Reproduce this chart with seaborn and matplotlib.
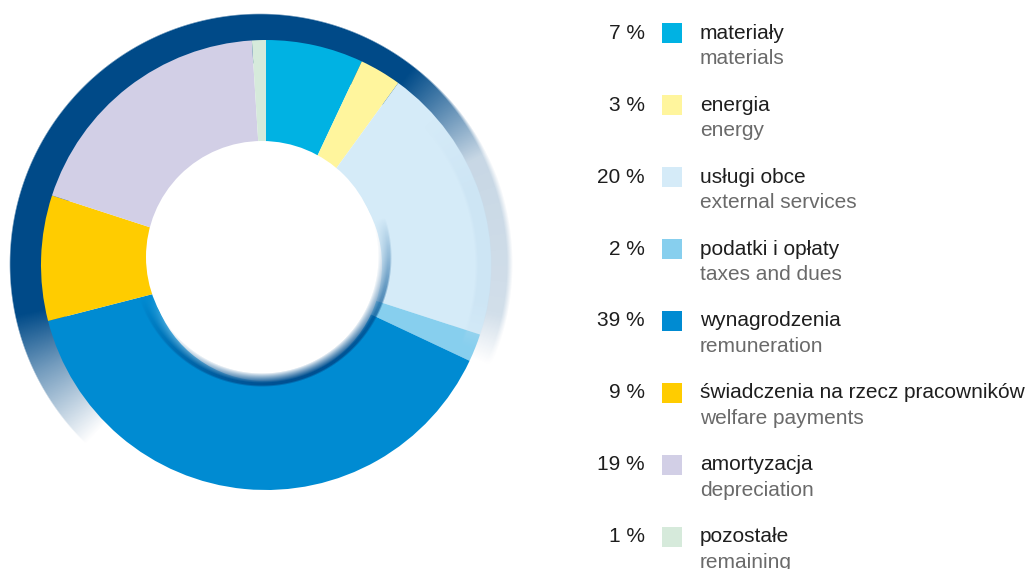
import numpy as np
import matplotlib
matplotlib.use("Agg")
import matplotlib.pyplot as plt
import seaborn as sns
from matplotlib.patches import Rectangle, Circle

# Cost structure
shares = [7, 3, 20, 2, 39, 9, 19, 1]
labels_pl = ["materiały", "energia", "usługi obce", "podatki i opłaty",
             "wynagrodzenia", "świadczenia na rzecz pracowników",
             "amortyzacja", "pozostałe"]
labels_en = ["materials", "energy", "external services", "taxes and dues",
             "remuneration", "welfare payments", "depreciation", "remaining"]
colors = ["#00b2e3", "#fff59d", "#d5ebf8", "#87cfee",
          "#008bd2", "#ffcc00", "#d2cfe6", "#d6eadb"]

sns.set_theme(style="white")
plt.rcParams["font.family"] = ["Liberation Sans", "DejaVu Sans"]

W, H = 1033, 569
fig = plt.figure(figsize=(W / 100, H / 100), dpi=100)
ax = fig.add_axes([0, 0, 1, 1])

cx, cy = 266, H - 265      # donut centre
r_out, r_in = 225, 116     # donut radii
navy = np.array([0, 74, 136]) / 255

# Dark rim behind the donut, fading out towards the right and bottom-left
ys, xs = np.mgrid[0:H, 0:560]
px = xs + 0.5
py = H - (ys + 0.5)
rx, ry = 260, H - 264
dist = np.hypot(px - rx, py - ry)
theta = np.degrees(np.arctan2(py - ry, px - rx))
theta = np.where(theta < -90, theta + 360, theta)
a_ang = np.interp(theta, [-90, -24, -12, 26, 52, 192, 206, 226, 270],
                  [0, 0, 0.18, 0.22, 1, 1, 0.55, 0, 0])
soft = np.interp(theta, [-90, 20, 50, 270], [6, 6, 1.5, 1.5])
a_rad = np.clip((250 - dist) / soft + 0.5, 0, 1) * np.clip((dist - 200) / 2.0, 0, 1)
rim = np.zeros((H, 560, 4))
rim[..., :3] = navy
rim[..., 3] = a_ang * a_rad
ax.imshow(rim, extent=(0, 560, 0, H), origin="upper", zorder=1,
          interpolation="bilinear")

# Donut segments
ax.pie(shares, colors=colors, startangle=90, counterclock=False,
       center=(cx, cy), radius=r_out,
       wedgeprops=dict(width=r_out - r_in, linewidth=0, antialiased=True),
       frame=True)

# Pale veil of the rim over the right-hand edge of the segments
veil = np.zeros((H, 560, 4))
veil[..., :3] = np.array([200, 225, 242]) / 255
dv = np.hypot(px - cx, py - cy)
v_ang = np.interp(theta, [-90, -22, -10, 20, 40, 270], [0, 0, 0.55, 0.55, 0, 0])
veil[..., 3] = v_ang * np.clip((dv - (r_out - 16)) / 3, 0, 1) * np.clip((r_out + 1 - dv), 0, 1)
ax.imshow(veil, extent=(0, 560, 0, H), origin="upper", zorder=2,
          interpolation="bilinear")

# Soft shaded rim around the hole, darkest at the bottom right
hx, hy = 262, H - 257
dh = np.hypot(px - hx, py - hy)
th = np.degrees(np.arctan2(py - hy, px - hx))
shade = np.clip(np.cos(np.radians(th + 72)), 0, 1) ** 1.0
band = np.clip((dh - r_in + 3) / 3, 0, 1) * np.clip((r_in + 14 - dh) / 2, 0, 1)
t = np.clip((dh - r_in) / 10, 0, 1) ** 0.8
hole_rgba = np.zeros((H, 560, 4))
dark = np.array([0, 80, 145]) / 255
hole_rgba[..., :3] = (1 - t[..., None]) * 1.0 + t[..., None] * dark
hole_rgba[..., 3] = band * shade
ax.imshow(hole_rgba, extent=(0, 560, 0, H), origin="upper", zorder=3,
          interpolation="bilinear")
ax.add_patch(Circle((hx, hy), r_in, facecolor="white", edgecolor="none",
                    zorder=4))

# Legend rows
row0, step = H - 33, 72
for i, (s, pl, en, c) in enumerate(zip(shares, labels_pl, labels_en, colors)):
    y = row0 - i * step
    ax.text(645, y, f"{s} %", ha="right", va="center", fontsize=15,
            color="#1e1e1e", zorder=5)
    ax.add_patch(Rectangle((662, y - 10), 20, 20, facecolor=c,
                           edgecolor="none", zorder=5))
    ax.text(700, y, pl, ha="left", va="center", fontsize=15,
            color="#1e1e1e", zorder=5)
    ax.text(700, y - 25, en, ha="left", va="center", fontsize=15,
            color="#6a6a6a", zorder=5)

ax.set_xlim(0, W)
ax.set_ylim(0, H)
ax.set_aspect("auto")
ax.axis("off")

fig.savefig("out.png", dpi=100, facecolor="white")
